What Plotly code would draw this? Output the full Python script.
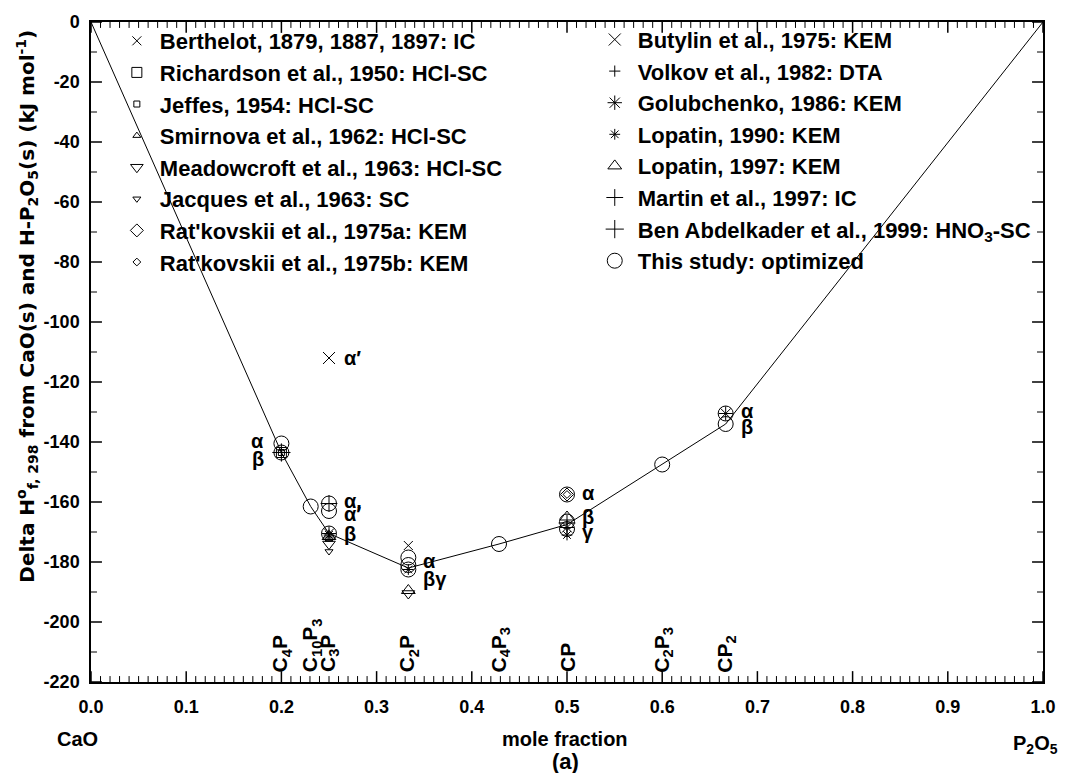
import plotly.graph_objects as go

FONT = "Liberation Sans, Arial, Helvetica, sans-serif"

# ---------------- data ----------------
# optimized enthalpy curve (mole fraction P2O5, kJ/mol)
curve_x = [0.0, 0.2, 3 / 13, 0.25, 1 / 3, 3 / 7, 0.5, 0.6, 2 / 3, 1.0]
curve_y = [0.0, -143.5, -161.5, -170.5, -182.0, -174.0, -167.5, -147.5, -134.0, 0.0]

# literature series
berthelot_x = [1 / 3]
berthelot_y = [-174.5]
richardson_x = [0.2]
richardson_y = [-143.5]
jeffes_x = [0.2]
jeffes_y = [-143.5]
smirnova_x = [0.25]
smirnova_y = [-172.5]
meadowcroft_x = [0.25, 1 / 3]
meadowcroft_y = [-174.0, -190.5]
jacques_x = [0.25]
jacques_y = [-176.5]
ratkovskii_a_x = [0.5]
ratkovskii_a_y = [-157.5]
ratkovskii_b_x = [0.5]
ratkovskii_b_y = [-157.5]
butylin_x = [0.25]
butylin_y = [-112.0]
volkov_x = [0.2]
volkov_y = [-143.5]
golubchenko_x = [0.25, 0.5, 2 / 3]
golubchenko_y = [-170.5, -168.5, -130.5]
lopatin1990_x = [0.25, 1 / 3, 0.5]
lopatin1990_y = [-171.0, -182.5, -171.0]
lopatin1997_x = [0.25, 1 / 3, 0.5]
lopatin1997_y = [-171.5, -189.5, -165.0]
martin_x = [0.25, 0.5]
martin_y = [-160.5, -167.0]
benabdelkader_x = [0.2]
benabdelkader_y = [-143.5]
opt_x = [0.2, 0.2, 3 / 13, 0.25, 0.25, 0.25, 1 / 3, 1 / 3, 1 / 3, 3 / 7,
         0.5, 0.5, 0.5, 0.6, 2 / 3, 2 / 3]
opt_y = [-140.5, -143.5, -161.5, -160.5, -163.0, -170.5, -178.5, -181.0, -182.5, -174.0,
         -157.5, -166.5, -169.0, -147.5, -130.5, -134.0]

# compound names along the bottom
compound_names = ["C<sub>4</sub>P", "C<sub>10</sub>P<sub>3</sub>", "C<sub>3</sub>P", "C<sub>2</sub>P",
                  "C<sub>4</sub>P<sub>3</sub>", "CP", "C<sub>2</sub>P<sub>3</sub>", "CP<sub>2</sub>"]
compound_x = [0.2, 3 / 13, 0.25, 1 / 3, 3 / 7, 0.5, 0.6, 2 / 3]

# polymorph labels (compound x, level, text, side)
phase_x = [0.2, 0.2, 0.25, 0.25, 0.25, 0.25, 1 / 3, 1 / 3, 0.5, 0.5, 0.5, 2 / 3, 2 / 3]
phase_y = [-139.5, -145.5, -112.0, -159.5, -164.0, -170.5, -179.5, -185.5, -157.0, -165.0, -170.0, -129.5, -135.0]
phase_text = ["α", "β", "α′", "α,", "α′", "β", "α", "βγ", "α", "β", "γ", "α", "β"]
phase_side = ["left", "left", "right", "right", "right", "right", "right", "right", "right", "right", "right", "right", "right"]

x_ticks = [0.0, 0.1, 0.2, 0.3, 0.4, 0.5, 0.6, 0.7, 0.8, 0.9, 1.0]
y_ticks = [0, -20, -40, -60, -80, -100, -120, -140, -160, -180, -200, -220]
x_minor_ticks = [i / 100 for i in range(101) if i % 10 != 0]
y_minor_ticks = [-10 - 20 * i for i in range(11)]

# ---------------- figure ----------------
fig = go.Figure()
fig.add_trace(go.Scatter(x=curve_x, y=curve_y, mode="lines",
                         line=dict(color="black", width=1), showlegend=False))


def add_series(x, y, name, symbol, size, legend):
    fig.add_trace(go.Scatter(
        x=x, y=y, mode="markers", name=name, legend=legend,
        marker=dict(symbol=symbol, size=size, color="black",
                    line=dict(color="black", width=1)),
    ))


add_series(berthelot_x, berthelot_y, "Berthelot, 1879, 1887, 1897: IC", "x-thin-open", 9, "legend")
add_series(richardson_x, richardson_y, "Richardson et al., 1950: HCl-SC", "square-open", 10, "legend")
add_series(jeffes_x, jeffes_y, "Jeffes, 1954: HCl-SC", "square-open", 6, "legend")
add_series(smirnova_x, smirnova_y, "Smirnova et al., 1962: HCl-SC", "triangle-up-open", 7, "legend")
add_series(meadowcroft_x, meadowcroft_y, "Meadowcroft et al., 1963: HCl-SC", "triangle-down-open", 11, "legend")
add_series(jacques_x, jacques_y, "Jacques et al., 1963: SC", "triangle-down-open", 7, "legend")
add_series(ratkovskii_a_x, ratkovskii_a_y, "Rat'kovskii et al., 1975a: KEM", "diamond-open", 10, "legend")
add_series(ratkovskii_b_x, ratkovskii_b_y, "Rat'kovskii et al., 1975b: KEM", "diamond-open", 6, "legend")

add_series(butylin_x, butylin_y, "Butylin et al., 1975: KEM", "x-thin-open", 12, "legend2")
add_series(volkov_x, volkov_y, "Volkov et al., 1982: DTA", "cross-thin-open", 8, "legend2")
add_series(golubchenko_x, golubchenko_y, "Golubchenko, 1986: KEM", "asterisk-open", 12, "legend2")
add_series(lopatin1990_x, lopatin1990_y, "Lopatin, 1990: KEM", "asterisk-open", 9, "legend2")
add_series(lopatin1997_x, lopatin1997_y, "Lopatin, 1997: KEM", "triangle-up-open", 12, "legend2")
add_series(martin_x, martin_y, "Martin et al., 1997: IC", "cross-thin-open", 12, "legend2")
add_series(benabdelkader_x, benabdelkader_y, "Ben Abdelkader et al., 1999: HNO<sub>3</sub>-SC",
           "cross-thin-open", 13, "legend2")
add_series(opt_x, opt_y, "This study: optimized", "circle-open", 15, "legend2")

annotations = []
# compound labels (rotated)
for name, cx in zip(compound_names, compound_x):
    annotations.append(dict(x=cx, y=-217.5, xref="x", yref="y", text=name, showarrow=False,
                            textangle=-90, xanchor="center", yanchor="bottom",
                            font=dict(family=FONT, size=21, color="black", weight="bold")))
# polymorph labels
for px_, py_, t, side in zip(phase_x, phase_y, phase_text, phase_side):
    if side == "left":
        ax_, anc = px_ - 0.016, "right"
    else:
        ax_, anc = px_ + 0.0135, "left"
    annotations.append(dict(x=ax_, y=py_, xref="x", yref="y", text=t, showarrow=False,
                            xanchor=anc, yanchor="middle",
                            font=dict(family=FONT, size=20, color="black", weight="bold")))

# axis captions
annotations += [
    dict(x=-0.0146, y=-0.087, xref="paper", yref="paper", text="CaO", showarrow=False,
         xanchor="center", yanchor="middle", font=dict(family=FONT, size=20, color="black", weight="bold")),
    dict(x=0.498, y=-0.087, xref="paper", yref="paper", text="mole fraction", showarrow=False,
         xanchor="center", yanchor="middle", font=dict(family=FONT, size=20, color="black", weight="bold")),
    dict(x=0.992, y=-0.094, xref="paper", yref="paper", text="P<sub>2</sub>O<sub>5</sub>", showarrow=False,
         xanchor="center", yanchor="middle", font=dict(family=FONT, size=20, color="black", weight="bold")),
    dict(x=0.498, y=-0.12, xref="paper", yref="paper", text="(a)", showarrow=False,
         xanchor="center", yanchor="middle", font=dict(family=FONT, size=22, color="black", weight="bold")),
    dict(x=-0.067, y=0.569, xref="paper", yref="paper",
         text="Delta H<sup>o</sup><sub>f, 298</sub> from CaO(s) and H-P<sub>2</sub>O<sub>5</sub>(s) (kJ mol<sup>-1</sup>)",
         showarrow=False, textangle=-90, xanchor="center", yanchor="middle",
         font=dict(family="DejaVu Sans", size=20, color="black", weight="bold")),
]

# inside tick marks on all four sides (drawn as shapes so they are always visible)
PLOT_W, PLOT_H = 956, 668
MAJ, MIN = 11, 6
shapes = []
for v, ln, w in [(t, MAJ, 1.5) for t in x_ticks] + [(t, MIN, 1) for t in x_minor_ticks]:
    for base, sgn in [(0, 1), (1, -1)]:
        shapes.append(dict(type="line", xref="x", yref="paper", x0=v, x1=v,
                           y0=base, y1=base + sgn * ln / PLOT_H,
                           line=dict(color="black", width=w), layer="above"))
for v, ln, w in [(t, MAJ, 1.5) for t in y_ticks] + [(t, MIN, 1) for t in y_minor_ticks]:
    for base, sgn in [(0, 1), (1, -1)]:
        shapes.append(dict(type="line", xref="paper", yref="y", x0=base, x1=base + sgn * ln / PLOT_W,
                           y0=v, y1=v, line=dict(color="black", width=w), layer="above"))

legend_common = dict(xanchor="left", yanchor="top", bgcolor="rgba(0,0,0,0)", borderwidth=0,
                     itemsizing="trace", tracegroupgap=0, itemwidth=36,
                     font=dict(family=FONT, size=22, color="black", weight="bold"))

fig.update_layout(
    width=1068, height=773,
    margin=dict(l=91, r=21, t=14, b=91),
    plot_bgcolor="white", paper_bgcolor="white",
    font=dict(family=FONT, size=18, color="black", weight="bold"),
    showlegend=True,
    legend=dict(x=0.024, y=1.003, **legend_common),
    legend2=dict(x=0.526, y=1.005, **legend_common),
    annotations=annotations,
    shapes=shapes,
)

fig.update_xaxes(range=[0, 1], tickvals=x_ticks, ticktext=[f"{v:.1f}" for v in x_ticks],
                 ticklabelstandoff=8, showline=True, linewidth=1.5, linecolor="black",
                 mirror=True, ticks="", showgrid=False, zeroline=False)
fig.update_yaxes(range=[-220, 0], tickvals=y_ticks, ticktext=[str(v) for v in y_ticks],
                 ticklabelstandoff=6, showline=True, linewidth=1.5, linecolor="black",
                 mirror=True, ticks="", showgrid=False, zeroline=False)

fig.write_html("out.html")
